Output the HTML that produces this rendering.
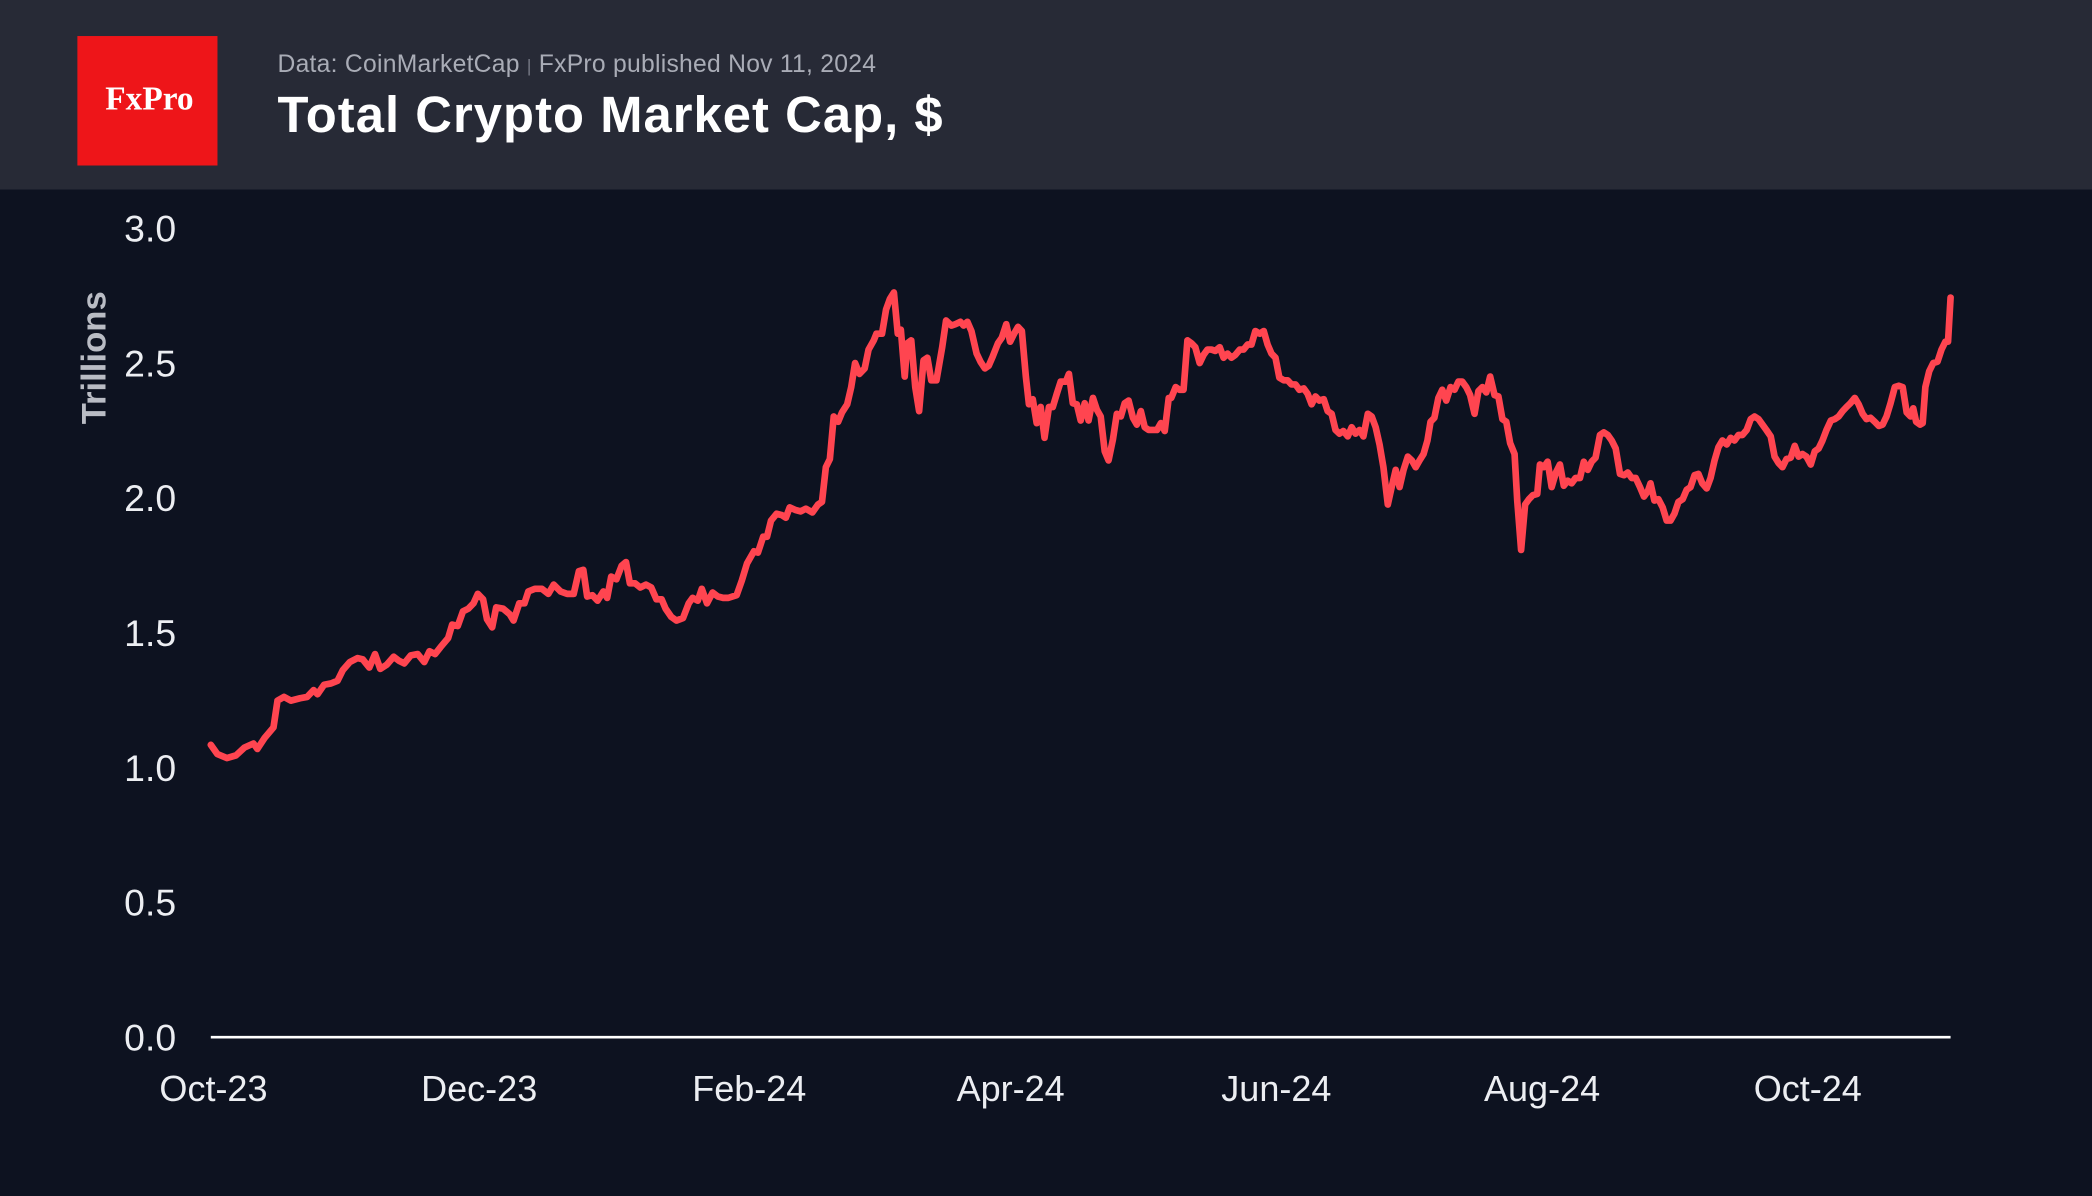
<!DOCTYPE html>
<html><head><meta charset="utf-8"><style>
html,body{margin:0;padding:0;background:#0d1220;}
svg{display:block;font-family:"Liberation Sans",sans-serif;}
</style></head><body>
<svg id="chart" width="2092" height="1196" viewBox="0 0 1568 896" preserveAspectRatio="none" xmlns="http://www.w3.org/2000/svg">
<rect x="0" y="0" width="1568" height="896" fill="#0d1220"/>
<rect x="0" y="0" width="1568" height="142" fill="#272a36"/>
<rect x="58" y="27" width="105" height="97" fill="#ee1519"/>
<text x="112" y="82" text-anchor="middle" fill="#fff" font-family="Liberation Serif,serif" font-size="25" font-weight="bold">FxPro</text>
<text x="208" y="54" fill="#a9acb6" font-size="18.5" letter-spacing="0.2">Data: CoinMarketCap <tspan fill="#777a86" font-size="13">|</tspan> FxPro published Nov 11, 2024</text>
<text x="208" y="99" fill="#ffffff" font-size="38" font-weight="bold" letter-spacing="0.8">Total Crypto Market Cap, $</text>
<text transform="translate(79,268) rotate(-90)" text-anchor="middle" fill="#b9bcc4" font-size="26" font-weight="bold">Trillions</text>
<g id="yticks"></g>
<g id="xticks"></g>
<line x1="158" y1="777" x2="1462" y2="777" stroke="#ffffff" stroke-width="2"/>
<path id="series" fill="none" stroke="#ff4550" stroke-width="5" stroke-linejoin="round" stroke-linecap="round"/>
</svg>
<script>
const yTicks=[0,0.5,1.0,1.5,2.0,2.5,3.0];
const xTickLabels=["Oct-23","Dec-23","Feb-24","Apr-24","Jun-24","Aug-24","Oct-24"];
const xTickDays=[0,61,123,183,244,305,366];
const days=[0,1.5,3.7,5.8,7.7,9.8,10.7,12.3,14.4,15.3,16.8,18.4,20.5,22.1,23.6,24.5,26.0,27.6,29.1,30.3,31.9,33.7,34.9,36.4,37.7,38.9,40.4,42.0,43.2,44.4,45.9,47.5,49.0,50.2,51.5,52.7,54.5,55.4,56.7,57.9,59.1,60.3,61.3,62.5,63.4,64.6,65.5,67.1,68.6,69.5,70.8,72.0,72.9,74.4,76.0,77.5,78.7,80.3,81.8,83.3,84.5,85.5,86.4,87.6,88.8,90.1,91.0,91.9,93.1,94.3,95.3,96.2,97.4,98.6,99.9,101.1,102.3,103.5,104.4,105.7,106.9,108.4,109.7,110.6,111.8,112.7,113.9,115.2,116.4,117.6,118.8,120.7,121.9,123.1,124.7,125.6,126.8,127.7,128.6,129.9,131.1,132.0,132.9,134.2,135.4,136.6,138.1,139.4,140.3,141.2,142.1,143.0,144.0,144.9,146.1,147.0,147.9,148.9,150.1,151.0,152.2,152.8,154.1,155.0,155.9,156.8,157.7,158.4,159.3,159.9,160.8,161.7,162.6,163.6,164.5,165.4,166.6,167.9,168.8,170.0,170.9,172.1,172.8,173.7,174.6,175.8,176.7,177.7,178.6,179.5,180.7,181.6,182.6,183.5,184.4,185.3,186.2,187.1,187.8,188.7,189.6,190.5,191.4,192.4,193.3,194.2,195.1,196.3,197.0,197.9,198.8,199.7,200.6,201.5,202.5,203.4,204.3,205.2,206.1,207.1,208.0,208.9,209.8,210.7,211.7,212.6,213.5,214.4,215.3,216.2,217.2,218.1,219.0,219.9,220.5,221.5,222.4,223.3,224.2,225.1,226.0,227.0,227.9,228.8,229.7,230.6,231.6,232.5,233.4,234.3,235.2,236.2,237.1,238.0,238.9,239.8,240.8,241.7,242.6,243.5,244.4,245.3,246.3,247.2,248.1,249.0,249.9,250.9,251.8,252.7,253.6,254.5,255.5,256.4,257.3,258.2,259.1,260.0,261.0,261.9,262.8,263.7,264.6,265.6,266.5,267.4,268.3,269.2,270.2,271.1,272.0,272.9,273.8,274.8,275.7,276.6,277.5,278.4,279.3,280.0,280.9,281.8,282.7,283.6,284.6,285.5,286.4,287.3,288.2,289.1,290.1,291.0,291.9,292.8,293.7,294.7,295.6,296.5,297.4,298.3,299.3,299.9,300.8,301.7,302.6,303.5,304.5,305.1,306.0,306.9,307.8,308.8,309.7,310.6,311.5,312.4,313.3,314.3,315.2,316.1,317.0,317.9,318.9,319.8,320.7,321.6,322.5,323.5,324.4,325.3,326.2,327.1,328.1,329.0,329.9,330.5,331.4,332.3,333.3,334.2,335.1,336.0,336.9,337.9,338.8,339.7,340.6,341.5,342.4,343.4,344.3,345.2,346.1,347.0,348.0,348.9,349.8,350.7,351.6,352.6,353.5,354.4,355.3,356.2,357.1,358.1,359.0,359.9,360.8,361.7,362.7,363.6,364.5,365.4,366.3,367.3,368.2,369.1,370.0,370.9,371.9,372.8,373.7,374.6,375.5,376.4,377.4,378.3,379.2,380.1,381.0,382.0,382.9,383.8,384.7,385.6,386.6,387.5,388.4,389.3,390.2,390.8,391.5,392.4,393.0,393.6,394.5,395.4,396.4,397.3,398.2,398.8,399.4];
const values=[1.084,1.050,1.035,1.045,1.074,1.089,1.069,1.109,1.149,1.248,1.262,1.248,1.257,1.262,1.287,1.272,1.307,1.312,1.322,1.361,1.391,1.406,1.401,1.371,1.421,1.366,1.381,1.411,1.396,1.386,1.416,1.421,1.391,1.431,1.421,1.446,1.480,1.530,1.525,1.579,1.589,1.609,1.644,1.624,1.550,1.520,1.594,1.589,1.569,1.545,1.609,1.609,1.653,1.663,1.663,1.644,1.678,1.653,1.644,1.644,1.728,1.733,1.634,1.639,1.619,1.653,1.629,1.708,1.698,1.748,1.762,1.683,1.683,1.668,1.678,1.668,1.624,1.624,1.589,1.559,1.545,1.554,1.609,1.629,1.619,1.663,1.609,1.649,1.634,1.629,1.629,1.639,1.693,1.757,1.802,1.797,1.856,1.856,1.916,1.941,1.936,1.926,1.965,1.955,1.950,1.960,1.946,1.975,1.985,2.114,2.144,2.302,2.282,2.317,2.347,2.411,2.500,2.460,2.480,2.550,2.584,2.609,2.609,2.698,2.738,2.762,2.609,2.624,2.450,2.574,2.584,2.411,2.322,2.510,2.520,2.436,2.436,2.559,2.658,2.639,2.644,2.653,2.639,2.653,2.619,2.535,2.505,2.480,2.490,2.525,2.574,2.594,2.644,2.579,2.609,2.634,2.619,2.450,2.347,2.366,2.277,2.337,2.223,2.337,2.337,2.386,2.431,2.431,2.460,2.351,2.347,2.287,2.351,2.287,2.371,2.327,2.302,2.173,2.139,2.218,2.312,2.302,2.351,2.361,2.297,2.272,2.322,2.262,2.252,2.252,2.252,2.277,2.248,2.371,2.371,2.411,2.401,2.401,2.584,2.574,2.559,2.500,2.530,2.550,2.550,2.545,2.559,2.520,2.535,2.520,2.530,2.550,2.550,2.569,2.569,2.619,2.609,2.619,2.569,2.535,2.520,2.446,2.436,2.436,2.421,2.421,2.401,2.406,2.386,2.347,2.376,2.361,2.366,2.322,2.312,2.252,2.238,2.248,2.228,2.262,2.238,2.252,2.228,2.312,2.302,2.262,2.198,2.114,1.975,2.040,2.104,2.040,2.104,2.153,2.139,2.114,2.139,2.163,2.213,2.282,2.297,2.371,2.401,2.361,2.411,2.401,2.431,2.431,2.411,2.381,2.312,2.396,2.411,2.391,2.450,2.381,2.376,2.292,2.282,2.203,2.163,1.990,1.807,1.975,1.995,2.010,2.015,2.124,2.114,2.134,2.040,2.094,2.124,2.045,2.064,2.054,2.074,2.074,2.134,2.104,2.134,2.149,2.233,2.243,2.233,2.213,2.183,2.089,2.084,2.094,2.074,2.074,2.040,2.005,2.025,2.054,1.990,1.995,1.965,1.916,1.916,1.941,1.985,1.995,2.030,2.040,2.084,2.089,2.054,2.035,2.074,2.139,2.188,2.213,2.198,2.223,2.213,2.233,2.233,2.252,2.292,2.302,2.292,2.272,2.252,2.228,2.153,2.129,2.114,2.144,2.149,2.193,2.153,2.163,2.153,2.124,2.173,2.183,2.213,2.252,2.287,2.292,2.302,2.322,2.337,2.351,2.371,2.347,2.312,2.292,2.297,2.282,2.267,2.272,2.302,2.351,2.411,2.416,2.411,2.317,2.302,2.332,2.282,2.272,2.277,2.411,2.470,2.500,2.505,2.550,2.579,2.579,2.743];

const NS="http://www.w3.org/2000/svg";
const X0=158,PX_PER_DAY=3.265,Y0=777,PX_PER_T=202;
function xScale(d){return X0+d*PX_PER_DAY;}
function yScale(v){return Y0-v*PX_PER_T;}
const yg=document.getElementById('yticks');
yTicks.forEach(t=>{
  const el=document.createElementNS(NS,'text');
  el.setAttribute('x',132);el.setAttribute('y',yScale(t)+10);
  el.setAttribute('text-anchor','end');el.setAttribute('fill','#eceef2');el.setAttribute('font-size','28');
  el.textContent=t.toFixed(1);
  
  
  yg.appendChild(el);
});
const xg=document.getElementById('xticks');
xTickLabels.forEach((lab,i)=>{
  const el=document.createElementNS(NS,'text');
  el.setAttribute('x',xScale(xTickDays[i])+2);el.setAttribute('y',825);
  el.setAttribute('text-anchor','middle');el.setAttribute('fill','#eceef2');el.setAttribute('font-size','27');
  el.textContent=lab;
  
  
  xg.appendChild(el);
});
let d='';
for(let i=0;i<values.length;i++){d+=(i?'L':'M')+xScale(days[i]).toFixed(1)+','+yScale(values[i]).toFixed(1);}
document.getElementById('series').setAttribute('d',d);
</script>
</body></html>
